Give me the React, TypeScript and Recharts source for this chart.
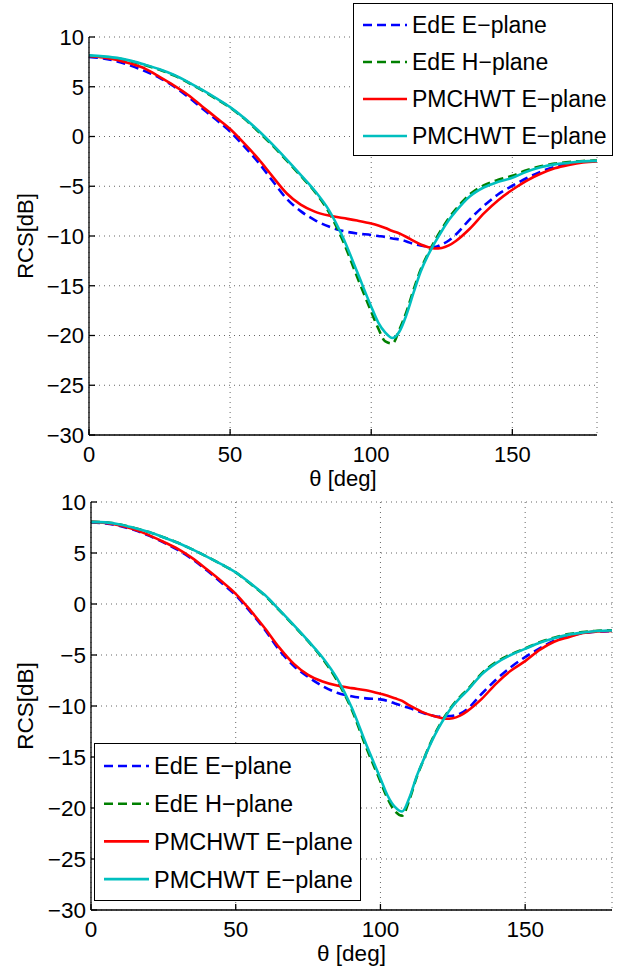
import React from 'react';
import { LineChart, Line, XAxis, YAxis, CartesianGrid, Legend } from 'recharts';

const FONT = "'Liberation Sans', Arial, Helvetica, sans-serif";

const THETA = [0, 5, 10, 15, 20, 25, 30, 35, 40, 45, 50, 55, 60, 65, 70, 75, 80, 85, 90, 95, 100, 102.5, 105, 107.5, 110, 112.5, 115, 117.5, 120, 122.5, 125, 127.5, 130, 135, 140, 145, 150, 155, 160, 165, 170, 175, 180];
const X_TICKS = [0, 50, 100, 150];
const Y_TICKS = [-30, -25, -20, -15, -10, -5, 0, 5, 10];

// Top panel
const TOP_EDE_E = [8.0, 7.85, 7.55, 7.1, 6.55, 5.9, 5.05, 4.0, 2.85, 1.7, 0.5, -1.0, -2.6, -4.45, -6.25, -7.5, -8.4, -9.05, -9.5, -9.75, -9.9, -10.0, -10.1, -10.25, -10.35, -10.55, -10.8, -10.95, -11.05, -11.1, -10.85, -10.45, -9.85, -8.3, -6.95, -5.8, -4.95, -4.2, -3.55, -3.05, -2.75, -2.55, -2.45];
const TOP_EDE_H = [8.1, 8.0, 7.85, 7.55, 7.15, 6.7, 6.15, 5.45, 4.65, 3.8, 2.9, 1.8, 0.5, -0.9, -2.4, -3.95, -5.55, -7.6, -10.5, -14.1, -17.6, -19.3, -20.6, -20.8, -19.4, -17.6, -15.4, -13.4, -11.85, -10.5, -9.3, -8.2, -7.3, -5.8, -4.9, -4.35, -3.95, -3.4, -3.0, -2.72, -2.57, -2.46, -2.42];
const TOP_PM_E = [8.1, 7.95, 7.7, 7.3, 6.8, 6.0, 5.15, 4.2, 3.05, 1.9, 0.75, -0.7, -2.25, -4.0, -5.7, -6.85, -7.55, -7.95, -8.2, -8.45, -8.75, -8.95, -9.2, -9.5, -9.75, -10.1, -10.5, -10.85, -11.1, -11.25, -11.2, -10.95, -10.5, -9.25, -7.7, -6.4, -5.35, -4.45, -3.75, -3.2, -2.85, -2.6, -2.5];
const TOP_PM_H = [8.15, 8.05, 7.9, 7.6, 7.2, 6.75, 6.2, 5.5, 4.7, 3.85, 2.95, 1.85, 0.6, -0.8, -2.3, -3.85, -5.45, -7.4, -10.15, -13.6, -17.1, -18.7, -19.7, -20.25, -19.6, -17.9, -15.7, -13.6, -12.0, -10.7, -9.5, -8.4, -7.5, -6.0, -5.1, -4.55, -4.15, -3.55, -3.1, -2.8, -2.65, -2.5, -2.45];

// Bottom panel
const BOT_EDE_E = [8.0, 7.9, 7.65, 7.25, 6.7, 6.05, 5.3, 4.4, 3.3, 2.1, 0.85, -0.75, -2.5, -4.5, -6.05, -7.15, -8.05, -8.7, -9.05, -9.25, -9.35, -9.5, -9.75, -10.0, -10.2, -10.45, -10.7, -10.9, -11.05, -11.0, -10.95, -10.75, -10.3, -8.8, -7.4, -6.2, -5.2, -4.35, -3.6, -3.15, -2.85, -2.7, -2.65];
const BOT_EDE_H = [8.05, 8.0, 7.8, 7.45, 7.05, 6.55, 6.0, 5.35, 4.65, 3.9, 3.1, 2.0, 0.85, -0.6, -2.1, -3.65, -5.35, -7.5, -10.3, -14.0, -17.4, -19.1, -20.3, -20.75, -19.2, -17.0, -15.2, -13.5, -12.1, -10.9, -9.9, -9.1, -8.4, -6.8, -5.7, -4.95, -4.35, -3.75, -3.3, -2.95, -2.75, -2.62, -2.58];
const BOT_PM_E = [8.05, 7.95, 7.7, 7.3, 6.75, 6.1, 5.4, 4.5, 3.4, 2.25, 1.0, -0.6, -2.35, -4.25, -5.85, -6.95, -7.6, -8.0, -8.25, -8.45, -8.8, -9.0, -9.25, -9.5, -9.95, -10.3, -10.65, -10.9, -11.1, -11.25, -11.2, -10.95, -10.5, -9.3, -7.8, -6.55, -5.6, -4.5, -3.7, -3.25, -2.85, -2.7, -2.65];
const BOT_PM_H = [8.05, 8.0, 7.8, 7.45, 7.05, 6.55, 6.0, 5.35, 4.65, 3.9, 3.1, 2.05, 0.9, -0.55, -2.05, -3.6, -5.25, -7.3, -10.1, -13.7, -17.1, -18.8, -19.9, -20.35, -19.0, -16.9, -15.2, -13.6, -12.2, -11.0, -10.0, -9.2, -8.5, -6.9, -5.8, -5.0, -4.4, -3.8, -3.35, -3.0, -2.8, -2.65, -2.6];

const SERIES = [
  { key: 'edeE', name: 'EdE E\u2212plane', color: '#0000ff', dash: '9 5' },
  { key: 'edeH', name: 'EdE H\u2212plane', color: '#008000', dash: '9 5' },
  { key: 'pmE', name: 'PMCHWT E\u2212plane', color: '#ff0000', dash: undefined },
  { key: 'pmH', name: 'PMCHWT E\u2212plane', color: '#00bfbf', dash: undefined },
];

function buildRows(a: number[], b: number[], c: number[], d: number[]) {
  return THETA.map((t, i) => ({ theta: t, edeE: a[i], edeH: b[i], pmE: c[i], pmH: d[i] }));
}

const TOP_ROWS = buildRows(TOP_EDE_E, TOP_EDE_H, TOP_PM_E, TOP_PM_H);
const BOT_ROWS = buildRows(BOT_EDE_E, BOT_EDE_H, BOT_PM_E, BOT_PM_H);

const fmt = (v: number) => (v < 0 ? '\u2212' + Math.abs(v) : String(v));

type PanelProps = {
  rows: any[];
  width: number;
  height: number;
  plotLeft: number;
  plotRight: number;
  plotTop: number;
  plotBottom: number;
  fs: number;
  lfs: number;
  legend: { left: number; top: number; width: number; height: number; pad: number; gap: number; first: number; textX: number; lineEnd: number };
};

function LegendBox({ cfg, lfs }: { cfg: PanelProps['legend']; lfs: number }) {
  return (
    <div
      style={{
        width: cfg.width,
        height: cfg.height,
        boxSizing: 'border-box',
        border: '1.3px solid #000',
        background: '#fff',
      }}
    >
      <svg width={cfg.width - 3} height={cfg.height - 3} style={{ display: 'block' }}>
        {SERIES.map((s, i) => {
          const y = cfg.first + i * cfg.gap;
          return (
            <g key={s.key + i}>
              <line x1={cfg.pad} x2={cfg.lineEnd} y1={y} y2={y} stroke={s.color} strokeWidth={2.6} strokeDasharray={s.dash} />
              <text x={cfg.textX} y={y + lfs * 0.36} fontSize={lfs} fontFamily={FONT} fill="#000">
                {s.name}
              </text>
            </g>
          );
        })}
      </svg>
    </div>
  );
}

function Panel(p: PanelProps) {
  const xAxisH = p.height - p.plotBottom;
  const tickStyle = { fill: '#000', fontSize: p.fs, fontFamily: FONT };
  const xMargin = 27 + 6 - 0.71 * p.fs;
  return (
    <LineChart
      width={p.width}
      height={p.height}
      data={p.rows}
      margin={{ top: p.plotTop, right: p.width - p.plotRight, left: 0, bottom: 0 }}
    >
      <CartesianGrid stroke="#666" strokeDasharray="1 4" strokeWidth={1} />
      <XAxis
        dataKey="theta"
        type="number"
        domain={[0, 180]}
        ticks={X_TICKS}
        interval={0}
        height={xAxisH}
        tickSize={-6}
        tickMargin={xMargin}
        tick={tickStyle}
        stroke="#000"
        strokeWidth={1.3}
        tickFormatter={fmt}
        label={(lp: any) => {
          const vb = lp.viewBox;
          return (
            <text x={vb.x + vb.width / 2} y={vb.y + 50.5} textAnchor="middle" fontSize={p.fs} fontFamily={FONT} fill="#000">
              {'\u03B8 [deg]'}
            </text>
          );
        }}
      />
      <XAxis xAxisId="top" orientation="top" dataKey="theta" type="number" domain={[0, 180]} ticks={X_TICKS} interval={0} height={0} tickSize={-6} tick={false} stroke="#000" strokeWidth={1.3} />
      <YAxis
        type="number"
        domain={[-30, 10]}
        ticks={Y_TICKS}
        interval={0}
        width={p.plotLeft}
        tickSize={-6}
        tickMargin={11}
        tick={tickStyle}
        stroke="#000"
        strokeWidth={1.3}
        tickFormatter={fmt}
        label={(lp: any) => {
          const vb = lp.viewBox;
          const cx = 33;
          const cy = vb.y + vb.height / 2;
          return (
            <text x={cx} y={cy} transform={`rotate(-90, ${cx}, ${cy})`} textAnchor="middle" fontSize={p.fs} fontFamily={FONT} fill="#000">
              RCS[dB]
            </text>
          );
        }}
      />
      <YAxis yAxisId="right" orientation="right" type="number" domain={[-30, 10]} ticks={Y_TICKS} interval={0} width={0} tickSize={-6} tick={false} stroke="#000" strokeWidth={1.3} />
      {SERIES.map((s) => (
        <Line
          key={s.key}
          dataKey={s.key}
          name={s.name}
          type="monotone"
          stroke={s.color}
          strokeWidth={2.6}
          strokeDasharray={s.dash}
          dot={false}
          activeDot={false}
          isAnimationActive={false}
        />
      ))}
      <Legend
        layout="vertical"
        align="center"
        verticalAlign="middle"
        wrapperStyle={{ left: p.legend.left, top: p.legend.top, width: p.legend.width, height: p.legend.height, margin: 0, padding: 0 }}
        content={() => <LegendBox cfg={p.legend} lfs={p.lfs} />}
      />
    </LineChart>
  );
}

export default function App() {
  return (
    <div style={{ position: 'absolute', left: 0, top: 0, width: 617, height: 972, background: '#fff', overflow: 'hidden' }}>
      <div style={{ position: 'absolute', left: 0, top: 0 }}>
        <Panel
          rows={TOP_ROWS}
          width={617}
          height={495}
          plotLeft={89}
          plotRight={597}
          plotTop={37}
          plotBottom={435}
          fs={22}
          lfs={23}
          legend={{ left: 353, top: 3, width: 260, height: 153, pad: 9, gap: 37, first: 21, textX: 58, lineEnd: 53 }}
        />
      </div>
      <div style={{ position: 'absolute', left: 0, top: 480 }}>
        <Panel
          rows={BOT_ROWS}
          width={617}
          height={492}
          plotLeft={91}
          plotRight={612}
          plotTop={22}
          plotBottom={430}
          fs={22.5}
          lfs={23.5}
          legend={{ left: 94, top: 263, width: 267, height: 158, pad: 9, gap: 37.7, first: 22, textX: 59, lineEnd: 54 }}
        />
      </div>
    </div>
  );
}
